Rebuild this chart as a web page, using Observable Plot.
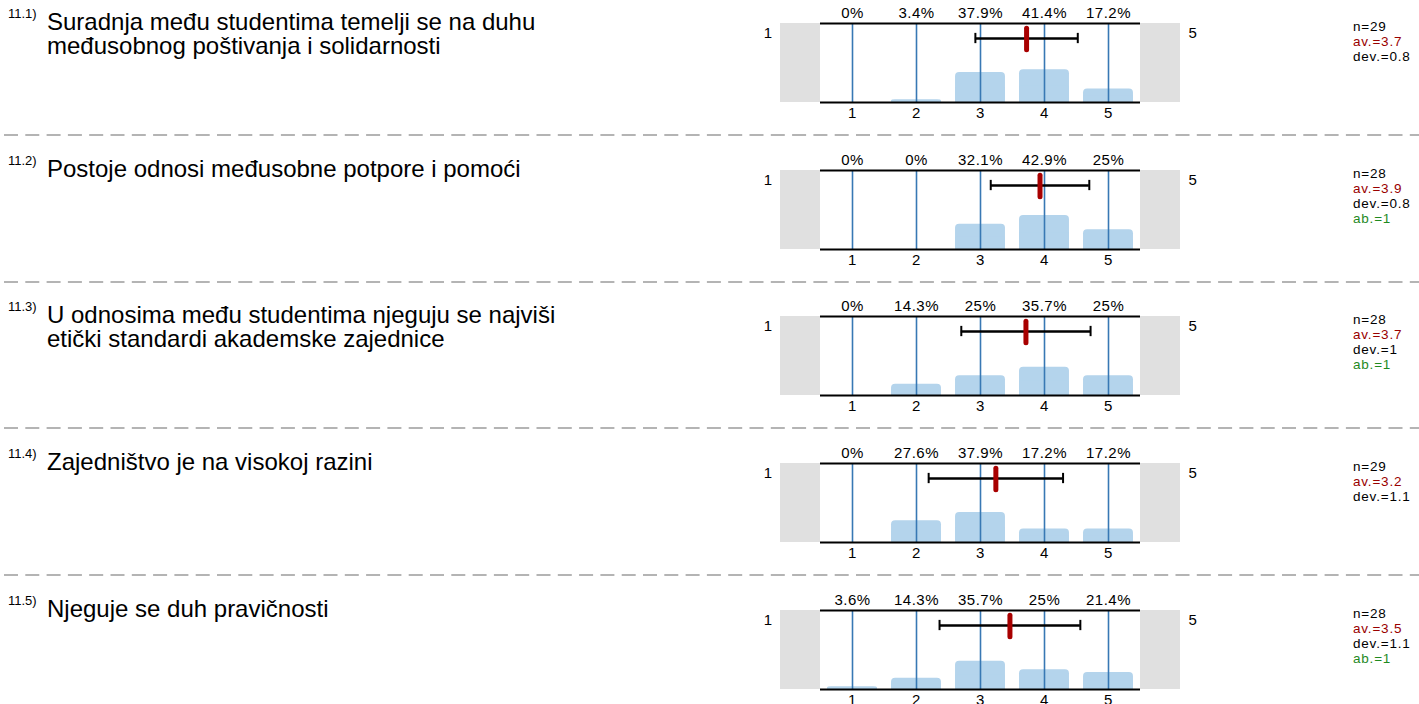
<!DOCTYPE html>
<html>
<head>
<meta charset="utf-8">
<script src="https://cdn.jsdelivr.net/npm/d3@7"></script>
<script src="https://cdn.jsdelivr.net/npm/@observablehq/plot@0.6"></script>
<style>
  html, body { margin: 0; padding: 0; background: #fff; }
  body { font-family: "Liberation Sans", Arial, sans-serif; color: #000; }
  #root { position: relative; width: 1419px; height: 704px; overflow: hidden; }
  .panel { position: absolute; left: 0; width: 1419px; height: 147px; }
  .num { position: absolute; left: 8px; top: 6px; font-size: 13px; line-height: 15px; }
  .q { position: absolute; left: 47px; top: 10px; font-size: 24px; line-height: 24px; width: 700px; }
  .chart { position: absolute; left: 760px; top: 0; }
  .chart text { letter-spacing: 0.5px; }
  .stats { position: absolute; left: 1353px; top: 19px; font-size: 13.5px; line-height: 15px; letter-spacing: 0.8px; }
  .sep { position: absolute; left: 0; top: 133px; }
</style>
</head>
<body>
<div id="root"></div>
<script>
const numbers = ["11.1)", "11.2)", "11.3)", "11.4)", "11.5)"];
const questions = [
  "Suradnja među studentima temelji se na duhu<br>međusobnog poštivanja i solidarnosti",
  "Postoje odnosi međusobne potpore i pomoći",
  "U odnosima među studentima njeguju se najviši<br>etički standardi akademske zajednice",
  "Zajedništvo je na visokoj razini",
  "Njeguje se duh pravičnosti"
];
const scale = [1, 2, 3, 4, 5];
const percents = [
  [0, 3.4, 37.9, 41.4, 17.2],
  [0, 0, 32.1, 42.9, 25],
  [0, 14.3, 25, 35.7, 25],
  [0, 27.6, 37.9, 17.2, 17.2],
  [3.6, 14.3, 35.7, 25, 21.4]
];
const means = [3.72, 3.93, 3.71, 3.24, 3.46];
const devs = [0.8, 0.77, 1.01, 1.05, 1.1];
const nValues = [29, 28, 28, 29, 28];
const avLabels = ["3.7", "3.9", "3.7", "3.2", "3.5"];
const devLabels = ["0.8", "0.8", "1", "1.1", "1.1"];
const abLabels = [null, "1", "1", null, "1"];

const root = document.getElementById("root");
const panelStep = 146.7;

questions.forEach((q, i) => {
  const panel = document.createElement("div");
  panel.className = "panel";
  panel.style.top = (i * panelStep) + "px";
  panel.innerHTML = `<div class="num">${numbers[i]}</div><div class="q">${q}</div>`;

  const rows = scale.map((s, j) => ({s, p: percents[i][j], label: percents[i][j] + "%"}));
  const m = means[i], d = devs[i];

  const chart = Plot.plot({
    width: 440,
    height: 125,
    marginLeft: 20,
    marginRight: 20,
    marginTop: 23,
    marginBottom: 23,
    x: {domain: [-0.125, 6.125], axis: null},
    y: {domain: [0, 100], axis: null},
    style: {fontFamily: "'Liberation Sans', Arial, sans-serif", fontSize: "15px", background: "transparent", overflow: "visible"},
    marks: [
      Plot.rect([{a: -0.125, b: 0.5}, {a: 5.5, b: 6.125}], {x1: "a", x2: "b", y1: 0, y2: 100, fill: "#e0e0e0"}),
      Plot.rect(rows.filter(r => r.p > 0), {x1: r => r.s - 0.39, x2: r => r.s + 0.39, y1: 0, y2: "p", fill: "#b4d4ec", rx: 4}),
      Plot.rect(rows.filter(r => r.p > 0), {x1: r => r.s - 0.39, x2: r => r.s + 0.39, y1: 0, y2: r => r.p / 2, fill: "#b4d4ec"}),
      Plot.ruleX(rows, {x: "s", y1: 0, y2: 100, stroke: "#3878b4", strokeWidth: 1.6}),
      Plot.ruleY([0, 100], {x1: 0.5, x2: 5.5, stroke: "#000", strokeWidth: 2}),
      Plot.text(rows, {x: "s", y: 100, text: "label", lineAnchor: "bottom", dy: -6, fill: "#000"}),
      Plot.text(rows, {x: "s", y: 0, text: d => String(d.s), lineAnchor: "top", dy: 5, fill: "#000"}),
      Plot.text([{x: -0.125, t: "1"}], {x: "x", y: 100, text: "t", textAnchor: "end", lineAnchor: "top", dx: -8, dy: 4, fill: "#000"}),
      Plot.text([{x: 6.125, t: "5"}], {x: "x", y: 100, text: "t", textAnchor: "start", lineAnchor: "top", dx: 8, dy: 4, fill: "#000"}),
      Plot.ruleY([{y: 81}], {y: "y", x1: m - d, x2: m + d, stroke: "#000", strokeWidth: 2.6}),
      Plot.ruleX([m - d, m + d], {x: d => d, y1: 74.5, y2: 87.5, stroke: "#000", strokeWidth: 2}),
      Plot.ruleX([m], {x: d => d, y1: 66, y2: 93.5, stroke: "#a80000", strokeWidth: 5, strokeLinecap: "round"})
    ]
  });
  chart.classList.add("chart");
  panel.appendChild(chart);

  const stats = document.createElement("div");
  stats.className = "stats";
  let html = `<div>n=${nValues[i]}</div><div style="color:#990000">av.=${avLabels[i]}</div><div>dev.=${devLabels[i]}</div>`;
  if (abLabels[i] !== null) html += `<div style="color:#1f8a1f">ab.=${abLabels[i]}</div>`;
  stats.innerHTML = html;
  panel.appendChild(stats);

  if (i < questions.length - 1) {
    const sep = d3.create("svg").attr("class", "sep").attr("width", 1419).attr("height", 4);
    sep.append("line").attr("x1", 4).attr("x2", 1419).attr("y1", 2).attr("y2", 2)
      .attr("stroke", "#b4b4b4").attr("stroke-width", 2).attr("stroke-dasharray", "14 7.3");
    panel.appendChild(sep.node());
  }
  root.appendChild(panel);
});
</script>
</body>
</html>
